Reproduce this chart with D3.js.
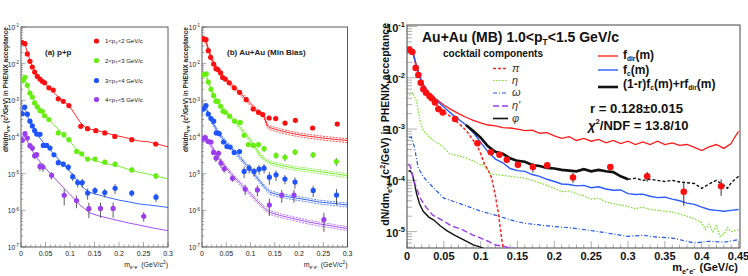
<!DOCTYPE html>
<html><head><meta charset="utf-8">
<script src="https://cdn.jsdelivr.net/npm/d3@7"></script>
<style>
body{margin:0;background:#fff}
svg{display:block}
text{font-family:"Liberation Sans",Arial,Helvetica,sans-serif}
</style>
</head><body>
<svg id="chart" width="748" height="276"></svg>
<script>
// ---------------- DATA ----------------
// Panel (a) p+p : [mass, yield, error]
const ppRed = [[0.0014,0.038,0.002],[0.0081,0.035,0.002],[0.0129,0.0184,0.001],[0.0183,0.0116,0.0006],[0.0231,0.0081,0.0004],[0.0278,0.0059,0.0003],[0.0333,0.0045,0.0002],[0.0387,0.0038,0.0002],[0.0434,0.0033,0.00015],[0.0482,0.003,0.00015],[0.057,0.0022,0.0001],[0.0658,0.0019,0.0001],[0.076,0.0011,0.00006],[0.0862,0.00094,0.00005],[0.0977,0.00072,0.00004],[0.122,0.000195,0.00001],[0.1357,0.000169,0.00001],[0.1527,0.000149,0.00001],[0.171,0.000129,0.00001],[0.1914,0.000104,0.00001],[0.226,0.0000845,0.000008],[0.275,0.0000644,0.000007]];
const ppGreen = [[0.0034,0.00344,0.0002],[0.0081,0.00424,0.0002],[0.0129,0.00256,0.00013],[0.0183,0.00158,0.0001],[0.0231,0.00123,0.00007],[0.0278,0.00085,0.00005],[0.0333,0.00066,0.00004],[0.0387,0.00053,0.00003],[0.0434,0.0005,0.00003],[0.0482,0.00038,0.00002],[0.057,0.0003,0.00002],[0.076,0.000129,0.00001],[0.0876,0.000116,0.00001],[0.0977,0.0000845,0.000007],[0.1137,0.0000403,0.000004],[0.1239,0.0000348,0.000004],[0.136,0.000025,0.000003],[0.151,0.000025,0.000003],[0.171,0.0000206,0.000003],[0.192,0.0000182,0.000003],[0.226,0.0000127,0.000002],[0.2755,0.0000087,0.0000015]];
const ppBlue = [[0.0027,0.00043,0.00004],[0.0075,0.00065,0.00005],[0.0129,0.00042,0.00003],[0.0183,0.00027,0.00002],[0.0231,0.0002,0.00002],[0.0278,0.00015,0.00002],[0.032,0.00012,0.00001],[0.0388,0.000118,0.00001],[0.0455,0.000059,0.000006],[0.0524,0.000059,0.000006],[0.0592,0.00005,0.000005],[0.0673,0.0000328,0.000004],[0.0761,0.00002,0.000003],[0.0863,0.0000182,0.000003],[0.0965,0.000015,0.000003],[0.1055,0.0000083,0.000002],[0.1157,0.0000057,0.0000015],[0.125,0.0000057,0.0000015],[0.136,0.00000295,0.000001],[0.151,0.00000347,0.0000008],[0.171,0.00000305,0.0000008],[0.192,0.000004,0.0000012],[0.226,0.00000295,0.0000006],[0.2755,0.00000229,0.0000006]];
const ppPurple = [[0.0027,0.000081,0.00001],[0.0081,0.000123,0.000012],[0.0129,0.000094,0.00001],[0.0183,0.000058,0.000008],[0.0231,0.00005,0.000008],[0.0278,0.000031,0.000006],[0.0319,0.000033,0.000006],[0.0387,0.0000158,0.000004],[0.0448,0.0000152,0.000004],[0.0624,0.000009,0.000002],[0.0882,0.00000257,0.0000012],[0.1133,0.00000184,0.0000007],[0.1385,0.00000111,0.0000005],[0.1622,0.00000113,0.0000005],[0.188,0.00000113,0.0000005],[0.2505,0.00000069,0.0000002]];
const ppFitRed = [[0,0.036],[0.005,0.037],[0.01,0.028],[0.015,0.017],[0.02,0.0105],[0.03,0.0055],[0.04,0.0038],[0.05,0.0028],[0.06,0.0021],[0.07,0.0015],[0.08,0.0011],[0.09,0.00088],[0.1,0.00066],[0.11,0.00042],[0.12,0.00026],[0.13,0.00019],[0.14,0.000165],[0.16,0.000145],[0.18,0.000122],[0.2,0.000105],[0.22,0.000092],[0.24,0.000078],[0.26,0.000074],[0.28,0.000063],[0.3,0.000054]];
const ppFitGreen = [[0,0.0033],[0.005,0.0042],[0.01,0.0033],[0.015,0.0021],[0.02,0.0014],[0.03,0.00085],[0.04,0.00055],[0.05,0.00038],[0.06,0.00027],[0.07,0.0002],[0.08,0.00014],[0.09,0.0001],[0.1,0.000075],[0.11,0.000052],[0.12,0.000036],[0.13,0.000028],[0.14,0.000025],[0.16,0.000021],[0.18,0.000018],[0.2,0.000016],[0.22,0.000013],[0.24,0.000011],[0.26,0.0000097],[0.28,0.0000083],[0.3,0.0000072]];
const ppFitBlue = [[0,0.00042],[0.005,0.00062],[0.01,0.0005],[0.015,0.00032],[0.02,0.00023],[0.03,0.00013],[0.04,0.000088],[0.05,0.00006],[0.06,0.000043],[0.07,0.000031],[0.08,0.000022],[0.09,0.000016],[0.1,0.0000115],[0.11,0.0000078],[0.12,0.0000052],[0.13,0.0000038],[0.14,0.0000031],[0.16,0.0000026],[0.18,0.0000022],[0.2,0.0000019],[0.22,0.0000017],[0.24,0.0000015],[0.26,0.0000014],[0.28,0.0000013],[0.3,0.0000012]];
const ppFitPurple = [[0,0.00008],[0.005,0.00011],[0.01,0.000095],[0.015,0.000067],[0.02,0.00005],[0.03,0.00003],[0.04,0.00002],[0.05,0.000014],[0.06,0.00001],[0.07,0.0000072],[0.08,0.0000052],[0.09,0.0000037],[0.1,0.0000027],[0.11,0.000002],[0.12,0.0000014],[0.13,0.0000011],[0.14,0.00000085],[0.16,0.0000007],[0.18,0.0000006],[0.2,0.00000052],[0.22,0.00000045],[0.24,0.0000004],[0.26,0.00000035],[0.28,0.00000031],[0.3,0.00000028]];

// Panel (b) Au+Au min bias
const auRed = [[0.0027,0.0481,0.003],[0.0082,0.0452,0.003],[0.013,0.0226,0.0012],[0.0178,0.0149,0.0008],[0.024,0.0098,0.0005],[0.0288,0.0073,0.0004],[0.0329,0.0069,0.0004],[0.0384,0.0056,0.0003],[0.0425,0.0042,0.0002],[0.048,0.0038,0.0002],[0.0562,0.003,0.00015],[0.0664,0.0022,0.0001],[0.0774,0.00165,0.0001],[0.0911,0.00104,0.00006],[0.1055,0.00058,0.00004],[0.1164,0.00047,0.00003],[0.1253,0.00041,0.00003],[0.1384,0.00033,0.00003],[0.152,0.00032,0.00003],[0.1712,0.00024,0.00003],[0.1925,0.000285,0.00003],[0.2281,0.000176,0.00002],[0.2788,0.000226,0.00003]];
const auGreen = [[0.0027,0.005,0.0003],[0.0089,0.0053,0.0003],[0.013,0.00316,0.0002],[0.0185,0.002,0.00012],[0.024,0.00134,0.00008],[0.0288,0.00094,0.00006],[0.0329,0.00094,0.00006],[0.0384,0.00069,0.00005],[0.0432,0.0005,0.00004],[0.048,0.00047,0.00004],[0.0568,0.00037,0.00003],[0.0671,0.00027,0.00002],[0.0788,0.00025,0.00002],[0.0869,0.000111,0.00001],[0.0957,0.000062,0.000008],[0.106,0.000059,0.000008],[0.1163,0.000062,0.000009],[0.128,0.000048,0.000008],[0.1527,0.0000315,0.000006],[0.171,0.000028,0.000006],[0.1917,0.000039,0.000007],[0.229,0.0000327,0.000006],[0.277,0.0000214,0.000005]];
const auBlue = [[0.0027,0.00058,0.00004],[0.0082,0.00072,0.00005],[0.013,0.00042,0.00003],[0.0185,0.00032,0.00002],[0.024,0.00027,0.00002],[0.0294,0.000129,0.00001],[0.0355,0.000123,0.00001],[0.0444,0.000073,0.000007],[0.0514,0.000055,0.000006],[0.0581,0.000053,0.000006],[0.0664,0.000038,0.000005],[0.0773,0.00004,0.000006],[0.0869,0.0000115,0.000004],[0.0972,0.0000141,0.000004],[0.1075,0.0000115,0.000003],[0.1177,0.0000133,0.000004],[0.128,0.0000141,0.000004],[0.1389,0.000008,0.000003],[0.1527,0.0000093,0.000003],[0.171,0.0000071,0.000002],[0.1917,0.0000059,0.000002],[0.2293,0.0000035,0.0000012],[0.2774,0.0000026,0.0000012]];
const auPurple = [[0.0027,0.000088,0.00001],[0.0068,0.000097,0.00001],[0.0123,0.000076,0.000008],[0.0185,0.000073,0.000008],[0.0238,0.000038,0.000006],[0.0288,0.0000266,0.000006],[0.0341,0.000036,0.000007],[0.039,0.0000194,0.000005],[0.0458,0.0000136,0.000003],[0.0629,0.0000075,0.0000015],[0.089,0.0000038,0.0000012],[0.1142,0.0000036,0.0000012],[0.1389,0.0000014,0.0000007],[0.1644,0.0000026,0.000001],[0.1896,0.0000026,0.000001],[0.2513,0.00000056,0.0000003]];
const auFitRed = [[0,0.046],[0.005,0.047],[0.01,0.034],[0.015,0.02],[0.02,0.0135],[0.03,0.0075],[0.04,0.0049],[0.05,0.0036],[0.06,0.0027],[0.07,0.002],[0.08,0.0015],[0.09,0.0011],[0.1,0.0008],[0.11,0.00058],[0.12,0.00045],[0.127,0.0004],[0.13,0.0003],[0.135,0.0002],[0.14,0.00018],[0.16,0.00015],[0.18,0.00013],[0.2,0.000115],[0.22,0.000105],[0.24,0.000097],[0.26,0.00009],[0.28,0.000085],[0.3,0.00008]];
const auFitGreen = [[0,0.0045],[0.005,0.0053],[0.01,0.0042],[0.015,0.0027],[0.02,0.0018],[0.03,0.001],[0.04,0.00066],[0.05,0.00046],[0.06,0.00034],[0.07,0.00025],[0.08,0.00017],[0.09,0.00012],[0.1,0.00008],[0.11,0.000052],[0.12,0.000032],[0.13,0.000024],[0.14,0.00002],[0.16,0.000017],[0.18,0.000015],[0.2,0.0000135],[0.22,0.0000125],[0.24,0.0000115],[0.26,0.0000105],[0.28,0.0000096],[0.3,0.0000088]];
const auFitBlue = [[0,0.0005],[0.005,0.0007],[0.01,0.00055],[0.015,0.00037],[0.02,0.00027],[0.03,0.00016],[0.04,0.0001],[0.05,0.00007],[0.06,0.00005],[0.07,0.000036],[0.08,0.000026],[0.09,0.000018],[0.1,0.000013],[0.11,0.0000088],[0.12,0.000006],[0.13,0.0000042],[0.14,0.0000031],[0.16,0.0000026],[0.18,0.0000023],[0.2,0.0000021],[0.22,0.0000019],[0.24,0.0000017],[0.26,0.0000016],[0.28,0.0000015],[0.3,0.0000014]];
const auFitPurple = [[0,0.00009],[0.005,0.000105],[0.01,0.000085],[0.02,0.000055],[0.03,0.000033],[0.04,0.000021],[0.05,0.0000145],[0.06,0.00001],[0.07,0.0000072],[0.08,0.0000052],[0.09,0.0000038],[0.1,0.0000028],[0.11,0.000002],[0.12,0.0000015],[0.13,0.0000011],[0.14,0.00000088],[0.16,0.00000073],[0.18,0.00000063],[0.2,0.00000055],[0.22,0.00000048],[0.24,0.00000043],[0.26,0.00000039],[0.28,0.00000035],[0.3,0.00000032]];
const auBandFrac = 0.12;   // relative half-width of the systematic band

// Panel (c) Au+Au MB 1.0<pT<1.5
const cData = [[0.0031,0.0354,0.002],[0.0072,0.0318,0.002],[0.0118,0.0156,0.001],[0.0154,0.0113,0.0007],[0.0186,0.008,0.0005],[0.0222,0.006,0.0004],[0.0258,0.0051,0.0003],[0.0304,0.0044,0.0003],[0.0335,0.004,0.0003],[0.038,0.0033,0.0002],[0.0426,0.00245,0.00015],[0.0485,0.0021,0.00015],[0.0653,0.00157,0.0001],[0.0956,0.00053,0.00005],[0.1138,0.000354,0.00003],[0.1255,0.000315,0.00003],[0.1355,0.000252,0.00003],[0.1505,0.000202,0.00003],[0.1709,0.000182,0.00004],[0.1903,0.000196,0.00003],[0.2253,0.000114,0.000025],[0.276,0.000182,0.000025],[0.326,0.00012,0.000026],[0.3757,0.00006,0.000028],[0.4264,0.000077,0.000027]];
const cFdir = [[0.003,0.0355],[0.006,0.037],[0.009,0.028],[0.012,0.019],[0.016,0.012],[0.02,0.0083],[0.025,0.0063],[0.03,0.005],[0.035,0.0042],[0.04,0.0038],[0.05,0.00295],[0.06,0.0024],[0.07,0.002],[0.08,0.0017],[0.09,0.00148],[0.1,0.00132],[0.11,0.0012],[0.12,0.00115],[0.13,0.00107],[0.14,0.00105],[0.15,0.001],[0.16,0.00093],[0.17,0.00095],[0.18,0.00083],[0.19,0.00085],[0.2,0.00074],[0.21,0.00066],[0.22,0.00071],[0.23,0.0006],[0.24,0.00066],[0.25,0.00058],[0.26,0.00063],[0.27,0.00054],[0.28,0.0006],[0.29,0.00052],[0.3,0.00058],[0.31,0.0005],[0.32,0.00056],[0.33,0.0005],[0.34,0.00058],[0.35,0.0005],[0.36,0.00054],[0.37,0.00048],[0.38,0.0005],[0.39,0.00044],[0.4,0.00038],[0.41,0.00045],[0.42,0.0005],[0.43,0.00042],[0.44,0.00052],[0.445,0.0007],[0.45,0.0009]];
const cFc = [[0.003,0.0355],[0.006,0.037],[0.009,0.028],[0.012,0.019],[0.016,0.012],[0.02,0.0083],[0.025,0.0063],[0.03,0.005],[0.035,0.0042],[0.04,0.0036],[0.05,0.0027],[0.06,0.002],[0.07,0.00155],[0.08,0.0012],[0.09,0.00085],[0.1,0.00055],[0.11,0.00036],[0.12,0.00026],[0.13,0.00022],[0.14,0.00017],[0.15,0.000155],[0.16,0.00015],[0.17,0.00013],[0.18,0.00012],[0.19,0.000105],[0.2,0.000095],[0.21,0.000085],[0.22,0.000083],[0.23,0.000078],[0.24,0.00008],[0.25,0.000072],[0.26,0.000075],[0.27,0.000068],[0.28,0.000064],[0.29,0.000065],[0.3,0.000055],[0.31,0.000053],[0.32,0.000054],[0.33,0.000049],[0.34,0.000046],[0.35,0.000047],[0.36,0.000043],[0.37,0.00004],[0.38,0.000036],[0.39,0.000034],[0.4,0.00003],[0.41,0.000027],[0.42,0.000026],[0.43,0.000025],[0.44,0.000026],[0.45,0.000027]];
const cCombSolid = [[0.08,0.0012],[0.09,0.00092],[0.1,0.00068],[0.11,0.00046],[0.12,0.00036],[0.13,0.00033],[0.14,0.00027],[0.15,0.00024],[0.16,0.00023],[0.17,0.0002],[0.18,0.00019],[0.19,0.000175],[0.2,0.00017],[0.21,0.00016],[0.22,0.000155],[0.23,0.00015],[0.24,0.000165],[0.25,0.00015],[0.26,0.00016],[0.27,0.00015],[0.28,0.000145],[0.29,0.00012],[0.3,0.000105]];
const cCombDashed = [[0.3,0.000105],[0.31,0.00011],[0.32,0.0001],[0.33,0.000105],[0.34,0.0001],[0.35,0.000095],[0.36,0.0001],[0.37,0.000093],[0.38,0.00009],[0.39,0.000087],[0.4,0.00007],[0.41,0.000085],[0.42,0.0001],[0.43,0.00008],[0.435,0.00007],[0.44,0.00009],[0.45,0.00012]];
const cPi = [[0.003,0.036],[0.006,0.037],[0.009,0.027],[0.012,0.018],[0.016,0.011],[0.02,0.0077],[0.025,0.0057],[0.03,0.0045],[0.035,0.0037],[0.04,0.003],[0.05,0.0022],[0.06,0.0017],[0.07,0.0013],[0.08,0.00095],[0.09,0.0006],[0.095,0.00048],[0.1,0.00033],[0.105,0.00021],[0.11,0.00016],[0.115,0.00011],[0.12,0.00005],[0.124,0.000023],[0.1287,0.0000069],[0.131,0.0000045]];
const cEta = [[0.003,0.0045],[0.0077,0.0051],[0.013,0.0035],[0.0177,0.00145],[0.022,0.00093],[0.03,0.0007],[0.036,0.0006],[0.049,0.00045],[0.058,0.00033],[0.07,0.0003],[0.081,0.00027],[0.09,0.00024],[0.1,0.0002],[0.104,0.0002],[0.113,0.000135],[0.12,0.00013],[0.13,0.000125],[0.14,0.00012],[0.15,0.000115],[0.16,0.00011],[0.17,0.0001],[0.18,0.00009],[0.19,0.00008],[0.2,0.00007],[0.21,0.00006],[0.22,0.000062],[0.23,0.000055],[0.24,0.00005],[0.25,0.000043],[0.26,0.000045],[0.27,0.000038],[0.28,0.000035],[0.29,0.000033],[0.3,0.000031],[0.31,0.000028],[0.32,0.00003],[0.33,0.000027],[0.34,0.000026],[0.35,0.000025],[0.36,0.000024],[0.37,0.000022],[0.38,0.00002],[0.39,0.000018],[0.4,0.000015],[0.405,0.000011],[0.41,0.000014],[0.415,0.00001],[0.42,0.000013],[0.425,0.000008],[0.43,0.000009],[0.435,0.000012],[0.44,0.00001],[0.45,0.000011]];
const cOmega = [[0.003,0.00069],[0.006,0.0007],[0.01,0.00045],[0.015,0.00018],[0.022,0.000117],[0.035,0.000074],[0.05,0.000045],[0.065,0.000038],[0.08,0.000032],[0.1,0.000025],[0.12,0.000021],[0.14,0.000017],[0.16,0.0000145],[0.18,0.0000135],[0.2,0.0000125],[0.22,0.000012],[0.24,0.000011],[0.26,0.00001],[0.28,0.000009],[0.3,0.0000081],[0.32,0.0000085],[0.34,0.0000078],[0.36,0.0000075],[0.38,0.0000065],[0.39,0.000006],[0.41,0.0000065],[0.43,0.0000062],[0.45,0.000007]];
const cEtaPrime = [[0.002,0.00021],[0.005,0.00018],[0.009,0.0001],[0.013,0.00007],[0.018,0.000045],[0.025,0.000031],[0.035,0.000021],[0.05,0.000016],[0.06,0.000013],[0.075,0.000011],[0.09,0.0000085],[0.1,0.0000075],[0.11,0.0000065],[0.12,0.0000055],[0.13,0.0000052],[0.14,0.0000048],[0.15,0.0000046]];
const cPhi = [[0.002,0.00015],[0.004,0.000155],[0.007,0.000135],[0.01,0.00009],[0.013,0.000055],[0.017,0.000035],[0.022,0.000025],[0.03,0.000019],[0.036,0.000017],[0.045,0.000013],[0.054,0.0000105],[0.065,0.0000085],[0.077,0.0000069],[0.09,0.0000055],[0.1,0.000005],[0.105,0.0000046]];

const smallXTicks = [0, 0.05, 0.1, 0.15, 0.2, 0.25, 0.3];
const smallYDecades = [-7,-6,-5,-4,-3,-2,-1];
const bigXTicks = [0, 0.05, 0.1, 0.15, 0.2, 0.25, 0.3, 0.35, 0.4, 0.45];
const bigYDecades = [-5,-4,-3,-2,-1];
const ptLegend = ["1<p|T|<2 GeV/c","2<p|T|<3 GeV/c","3<p|T|<4 GeV/c","4<p|T|<5 GeV/c"];

// ---------------- DRAWING ----------------
const COL = {red:"#ff1010", green:"#66ee11", blue:"#1e55ff", purple:"#9a3ef0"};
const svg = d3.select("#chart");
const defs = svg.append("defs");

function rich(sel, parts, size, scale=0.68, subShift=0.28) {
  let off = 0;
  parts.forEach(([t,k])=>{
    const ts = sel.append("tspan").text(t);
    const target = k==="sub" ? subShift*size : (k==="sup" ? -0.42*size : 0);
    if (target-off !== 0) ts.attr("dy", target-off);
    off = target;
    if (k==="sub"||k==="sup") ts.attr("font-size", size*scale);
    if (k==="i") ts.attr("font-style","italic");
  });
  return sel;
}

function clip(id,x0,y0,x1,y1){
  defs.append("clipPath").attr("id",id).append("rect").attr("x",x0).attr("y",y0).attr("width",x1-x0).attr("height",y1-y0);
}

function smallPanel(cfg){
  const {x0,x1,yT,yB,id} = cfg;
  const x = d3.scaleLinear().domain([0,0.3]).range([x0,x1]);
  const y = d3.scaleLog().domain([1e-7,1e-1]).range([yB,yT]);
  const g = svg.append("g");
  clip(id,x0,yT,x1,yB);
  const tk = g.append("g").attr("stroke","#888").attr("stroke-width",0.7);
  d3.range(0,31).forEach(i=>{
    const v=i/100, major = i%5===0;
    tk.append("line").attr("x1",x(v)).attr("x2",x(v)).attr("y1",yB).attr("y2",yB-(major?5:2.5));
  });
  y.ticks(60).forEach(v=>{
    const m = Math.abs(Math.log10(v)-Math.round(Math.log10(v)))<1e-6;
    tk.append("line").attr("x1",x0).attr("x2",x0+(m?4.5:2.2)).attr("y1",y(v)).attr("y2",y(v));
  });
  g.append("rect").attr("x",x0).attr("y",yT).attr("width",x1-x0).attr("height",yB-yT)
    .attr("fill","none").attr("stroke","#333").attr("stroke-width",0.8);
  smallXTicks.forEach(v=>{
    g.append("text").attr("x",x(v)).attr("y",yB+9).attr("text-anchor","middle")
      .attr("font-size",7).attr("fill","#222").text(v===0?"0":String(v));
  });
  smallYDecades.forEach(e=>{
    const t = g.append("text").attr("x",x0-2).attr("y",y(Math.pow(10,e))+3).attr("text-anchor","end")
      .attr("font-size",6.5).attr("fill","#222");
    rich(t,[["10",""],[String(e),"sup"]],6.5);
  });
  const yt = g.append("text").attr("transform",`translate(${cfg.ytx},${yT}) rotate(-90)`)
    .attr("text-anchor","end").attr("font-size",6.5).attr("font-weight","bold").attr("fill","#222");
  rich(yt,[["dN/dm",""],["e⁺e⁻","sub"],[" (c",""],["2","sup"],["/GeV) in PHENIX acceptance",""]],6.5);
  const xt = g.append("text").attr("x",x1).attr("y",yB+20).attr("text-anchor","end")
    .attr("font-size",7).attr("fill","#222");
  rich(xt,[["m",""],["e⁺e⁻","sub"],["  (GeV/c",""],["2","sup"],[")",""]],7);

  const line = d3.line().x(d=>x(d[0])).y(d=>y(d[1]));
  const lines = g.append("g").attr("clip-path",`url(#${id})`);
  const pts = g.append("g").attr("clip-path",`url(#${id})`);
  cfg.series.forEach(s=>{
    if (cfg.band){
      lines.append("path").datum(s.fit.map(d=>[d[0],d[1]*(1+auBandFrac)])).attr("d",line)
        .attr("fill","none").attr("stroke",s.col).attr("stroke-width",0.8).attr("stroke-dasharray","2,1.2").attr("opacity",0.9);
      lines.append("path").datum(s.fit.map(d=>[d[0],d[1]*(1-auBandFrac)])).attr("d",line)
        .attr("fill","none").attr("stroke",s.col).attr("stroke-width",0.8).attr("stroke-dasharray","2,1.2").attr("opacity",0.9);
    }
    lines.append("path").datum(s.fit).attr("d",line).attr("fill","none").attr("stroke",s.col).attr("stroke-width",0.9);
    s.pts.forEach(d=>{
      pts.append("line").attr("x1",x(d[0])).attr("x2",x(d[0]))
        .attr("y1",y(Math.max(d[1]-d[2],1e-8))).attr("y2",y(d[1]+d[2])).attr("stroke","#333").attr("stroke-width",0.8);
    });
    pts.selectAll(null).data(s.pts).join("circle").attr("cx",d=>x(d[0])).attr("cy",d=>y(d[1]))
      .attr("r",2.6).attr("fill",s.col);
  });
  return {x,y,g};
}

// Panel (a)
const A = smallPanel({id:"ca",x0:21,x1:168,yT:27,yB:247,ytx:8,band:false,series:[
  {pts:ppRed,fit:ppFitRed,col:COL.red},{pts:ppGreen,fit:ppFitGreen,col:COL.green},
  {pts:ppBlue,fit:ppFitBlue,col:COL.blue},{pts:ppPurple,fit:ppFitPurple,col:COL.purple}]});
A.g.append("text").attr("x",45).attr("y",55).attr("font-size",8).attr("font-weight","bold").attr("fill","#222").text("(a) p+p");
[COL.red,COL.green,COL.blue,COL.purple].forEach((c,i)=>{
  const yy=[41,60.5,80.5,99.5][i];
  A.g.append("circle").attr("cx",96.5).attr("cy",yy).attr("r",2.6).attr("fill",c);
  const t=A.g.append("text").attr("x",105).attr("y",yy+2.2).attr("font-size",6).attr("fill","#222");
  const p=ptLegend[i].split("|");
  rich(t,[[p[0],""],[p[1],"sub"],[p[2],""]],6);
});

// Panel (b)
const B = smallPanel({id:"cb",x0:202,x1:347.5,yT:27,yB:247,ytx:188,band:true,series:[
  {pts:auRed,fit:auFitRed,col:COL.red},{pts:auGreen,fit:auFitGreen,col:COL.green},
  {pts:auBlue,fit:auFitBlue,col:COL.blue},{pts:auPurple,fit:auFitPurple,col:COL.purple}]});
B.g.append("text").attr("x",227).attr("y",55).attr("font-size",8).attr("font-weight","bold").attr("fill","#222").text("(b) Au+Au (Min Bias)");

// Panel (c)
(function(){
  const x0=407,x1=740,yT=25,yB=248;
  const x = d3.scaleLinear().domain([0,0.452]).range([x0,x1]);
  const y = d3.scaleLog().domain([4.8e-6,0.107]).range([yB,yT]);
  const g = svg.append("g");
  clip("cc",x0,yT,x1,yB);
  const tk = g.append("g").attr("stroke","#999").attr("stroke-width",0.8);
  d3.range(0,46).forEach(i=>{
    const v=i/100, major=i%5===0;
    tk.append("line").attr("x1",x(v)).attr("x2",x(v)).attr("y1",yB).attr("y2",yB-(major?7:3.5));
  });
  y.ticks(60).forEach(v=>{
    const m = Math.abs(Math.log10(v)-Math.round(Math.log10(v)))<1e-6;
    tk.append("line").attr("x1",x0).attr("x2",x0+(m?10:5)).attr("y1",y(v)).attr("y2",y(v));
  });
  g.append("rect").attr("x",x0).attr("y",yT).attr("width",x1-x0).attr("height",yB-yT)
    .attr("fill","none").attr("stroke","#444").attr("stroke-width",1);
  bigXTicks.forEach(v=>{
    g.append("text").attr("x",x(v)).attr("y",yB+11.5).attr("text-anchor","middle")
      .attr("font-size",11).attr("font-weight","bold").attr("fill","#111").text(v===0?"0":String(v));
  });
  bigYDecades.forEach(e=>{
    const t=g.append("text").attr("x",x0-2).attr("y",y(Math.pow(10,e))+5).attr("text-anchor","end")
      .attr("font-size",11).attr("font-weight","bold").attr("fill","#111");
    rich(t,[["10",""],[String(e),"sup"]],11);
  });
  const yt = g.append("text").attr("transform",`translate(389,${yT-2}) rotate(-90)`)
    .attr("text-anchor","end").attr("font-size",10.5).attr("font-weight","bold").attr("fill","#111");
  rich(yt,[["dN/dm",""],["e⁺e⁻","sub"],[" (c",""],["2","sup"],["/GeV) in PHENIX acceptance",""]],10.5);
  const xt = g.append("text").attr("x",738).attr("y",271).attr("text-anchor","end")
    .attr("font-size",11).attr("font-weight","bold").attr("fill","#111");
  rich(xt,[["m",""],["e⁺e⁻","sub"],[" (GeV/c)",""]],11);

  const line = d3.line().x(d=>x(d[0])).y(d=>y(d[1]));
  const L = g.append("g").attr("clip-path","url(#cc)").attr("fill","none");
  const draw=(data,col,w,dash)=>L.append("path").datum(data).attr("d",line).attr("stroke",col)
     .attr("stroke-width",w).attr("stroke-dasharray",dash||null);
  draw(cPhi,"#111",1.4);
  draw(cEtaPrime,COL.purple,1.4,"6,3");
  draw(cOmega,"#2255ee",1.2,"4,2,1,2");
  draw(cEta,"#77dd22",1.2,"1.5,1.5");
  draw(cPi,"#ff2222",1.5,"3,2");
  draw(cFdir,"#ff1a1a",1.3);
  draw(cFc,"#2a5cff",1.4);
  draw(cCombDashed,"#111",1.4,"3,2");
  draw(cCombSolid,"#111",2.6);
  const P = g.append("g").attr("clip-path","url(#cc)");
  cData.forEach(d=>{
    P.append("line").attr("x1",x(d[0])).attr("x2",x(d[0])).attr("y1",y(d[1]-d[2])).attr("y2",y(d[1]+d[2]))
     .attr("stroke","#333").attr("stroke-width",1);
  });
  P.selectAll(null).data(cData).join("circle").attr("cx",d=>x(d[0])).attr("cy",d=>y(d[1])).attr("r",3.3).attr("fill","#ff1010");

  const t1=g.append("text").attr("x",422).attr("y",41.5).attr("font-size",14).attr("font-weight","bold").attr("fill","#111");
  rich(t1,[["Au+Au (MB) 1.0<p",""],["T","sub"],["<1.5 GeV/c",""]],14,0.6);
  g.append("text").attr("x",443).attr("y",56.5).attr("font-size",11.5).attr("font-weight","bold").attr("fill","#111")
    .attr("textLength",100).attr("lengthAdjust","spacingAndGlyphs").text("cocktail components");
  const leg=[["π","#ff2222","3,2",1.5],["η","#77dd22","1.5,1.5",1.2],["ω","#2255ee","4,2,1,2",1.2],["η'",COL.purple,"6,3",1.4],["φ","#111",null,1.6]];
  leg.forEach((r,i)=>{
    const yy=[68.5,80.5,93,106,118.5][i];
    g.append("line").attr("x1",493).attr("x2",508).attr("y1",yy).attr("y2",yy).attr("stroke",r[1])
      .attr("stroke-width",r[3]).attr("stroke-dasharray",r[2]);
    g.append("text").attr("x",512).attr("y",yy+3).attr("font-size",11).attr("font-style","italic")
      .attr("font-family","Liberation Serif, Times New Roman, serif").attr("fill","#333").text(r[0]);
  });
  const ml=[[56,"#ff1a1a",1.3,[["f",""],["dir","sub"],["(m)",""]],58.5],
            [70,"#2a5cff",1.4,[["f",""],["c","sub"],["(m)",""]],73.5],
            [87,"#111",2.6,[["(1-r)f",""],["c","sub"],["(m)+rf",""],["dir","sub"],["(m)",""]],87.5]];
  ml.forEach(r=>{
    g.append("line").attr("x1",598).attr("x2",618).attr("y1",r[0]).attr("y2",r[0]).attr("stroke",r[1]).attr("stroke-width",r[2]);
    const t=g.append("text").attr("x",623).attr("y",r[4]).attr("font-size",12).attr("fill","#111").attr("font-weight","bold");
    rich(t,r[3],12,0.55,0.2);
  });
  g.append("text").attr("x",590).attr("y",113).attr("font-size",13).attr("font-weight","bold").attr("fill","#111")
    .attr("textLength",93).attr("lengthAdjust","spacingAndGlyphs").text("r = 0.128±0.015");
  const chi=g.append("text").attr("x",588).attr("y",129.5).attr("font-size",13).attr("font-weight","bold").attr("fill","#111");
  rich(chi,[["χ","i"],["2","sup"],["/NDF = 13.8/10",""]],13,0.6);
})();
</script>
</body></html>
